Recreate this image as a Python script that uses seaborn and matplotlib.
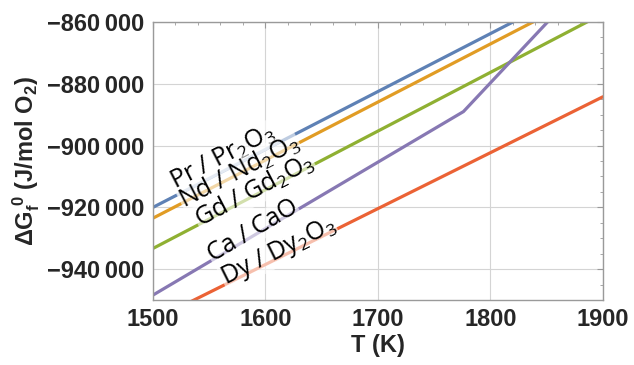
import numpy as np
import pandas as pd
import seaborn as sns
import matplotlib.pyplot as plt
from matplotlib.ticker import MultipleLocator, FuncFormatter

# ---- data ----
systems = ["Pr / Pr2O3", "Nd / Nd2O3", "Gd / Gd2O3", "Ca / CaO", "Dy / Dy2O3"]
pr_T = [1500, 1900]
pr_G = [-920000, -845000]
nd_T = [1500, 1900]
nd_G = [-923500, -848300]
gd_T = [1500, 1900]
gd_G = [-933300, -857300]
ca_T = [1500, 1776, 1900]
ca_G = [-948400, -889000, -840900]
dy_T = [1500, 1900]
dy_G = [-956600, -884200]

labels_math = [r"Pr / Pr$_2$O$_3$", r"Nd / Nd$_2$O$_3$", r"Gd / Gd$_2$O$_3$",
               r"Ca / CaO", r"Dy / Dy$_2$O$_3$"]
label_T = [1520, 1528, 1542, 1553, 1564]
label_dy = [6, -7, -4, -2, 0]   # vertical nudge of each label (pixels)

colors = ["#5E81B5", "#E19C24", "#8FB032", "#8778B3", "#EB6235"]

series_T = [pr_T, nd_T, gd_T, ca_T, dy_T]
series_G = [pr_G, nd_G, gd_G, ca_G, dy_G]

rows = []
for name, Ts, Gs in zip(systems, series_T, series_G):
    for t, g in zip(Ts, Gs):
        rows.append({"system": name, "T": t, "G": g})
df = pd.DataFrame(rows)

sns.set_style("white")
plt.rcParams["mathtext.fontset"] = "custom"
plt.rcParams["mathtext.rm"] = "Open Sans"
plt.rcParams["mathtext.it"] = "Open Sans:italic"
plt.rcParams["mathtext.bf"] = "Liberation Sans:bold"

fig = plt.figure(figsize=(6.34, 3.65), dpi=100)
ax = fig.add_axes([0.2413, 0.178, 0.7097, 0.7617])

sns.lineplot(data=df, x="T", y="G", hue="system", palette=colors,
             hue_order=systems, linewidth=2.3, ax=ax, legend=False,
             estimator=None, sort=False)

ax.set_xlim(1500, 1900)
ax.set_ylim(-950000, -860000)

ax.xaxis.set_major_locator(MultipleLocator(100))
ax.xaxis.set_minor_locator(MultipleLocator(20))
ax.yaxis.set_major_locator(MultipleLocator(20000))
ax.yaxis.set_minor_locator(MultipleLocator(5000))

def yfmt(v, pos):
    s = f"{abs(int(round(v))):,}".replace(",", "\u2009")
    return ("\u2212" if v < 0 else "") + s
ax.yaxis.set_major_formatter(FuncFormatter(yfmt))

ax.grid(True, which="major", color="#d4d4d4", linewidth=0.8)
ax.tick_params(which="both", direction="in", top=True, right=True,
               color="#999999", labelsize=17, pad=6)
ax.tick_params(which="major", length=4)
ax.tick_params(which="minor", length=2)
for lab in ax.get_xticklabels() + ax.get_yticklabels():
    lab.set_fontfamily("Liberation Sans")
    lab.set_fontweight("bold")
for s in ax.spines.values():
    s.set_color("#9a9a9a")
    s.set_linewidth(1.0)

ax.set_xlabel("T (K)", fontsize=17, fontweight="bold", family="Liberation Sans", labelpad=2)
ax.set_ylabel(r"ΔG$_{\mathbf{f}}^{\ \mathbf{0}}$ (J/mol O$_{\mathbf{2}}$)", fontsize=17,
              fontweight="bold", family="Liberation Sans", labelpad=4)

# in-line labels
for lab, Ts, Gs, tl, dy in zip(labels_math, series_T, series_G, label_T, label_dy):
    g = np.interp(tl, Ts, Gs)
    p1 = ax.transData.transform((Ts[0], Gs[0]))
    p2 = ax.transData.transform((Ts[1], Gs[1]))
    ang = np.degrees(np.arctan2(p2[1] - p1[1], p2[0] - p1[0]))
    ax.annotate(lab, xy=(tl, g), xytext=(0, dy), textcoords="offset pixels",
                rotation=ang, rotation_mode="anchor", ha="left",
                va="baseline", fontsize=18, family="Open Sans", color="black",
                bbox=dict(facecolor="white", alpha=0.6, edgecolor="none", pad=0.3),
                zorder=5)

fig.savefig("out.png", dpi=100)
